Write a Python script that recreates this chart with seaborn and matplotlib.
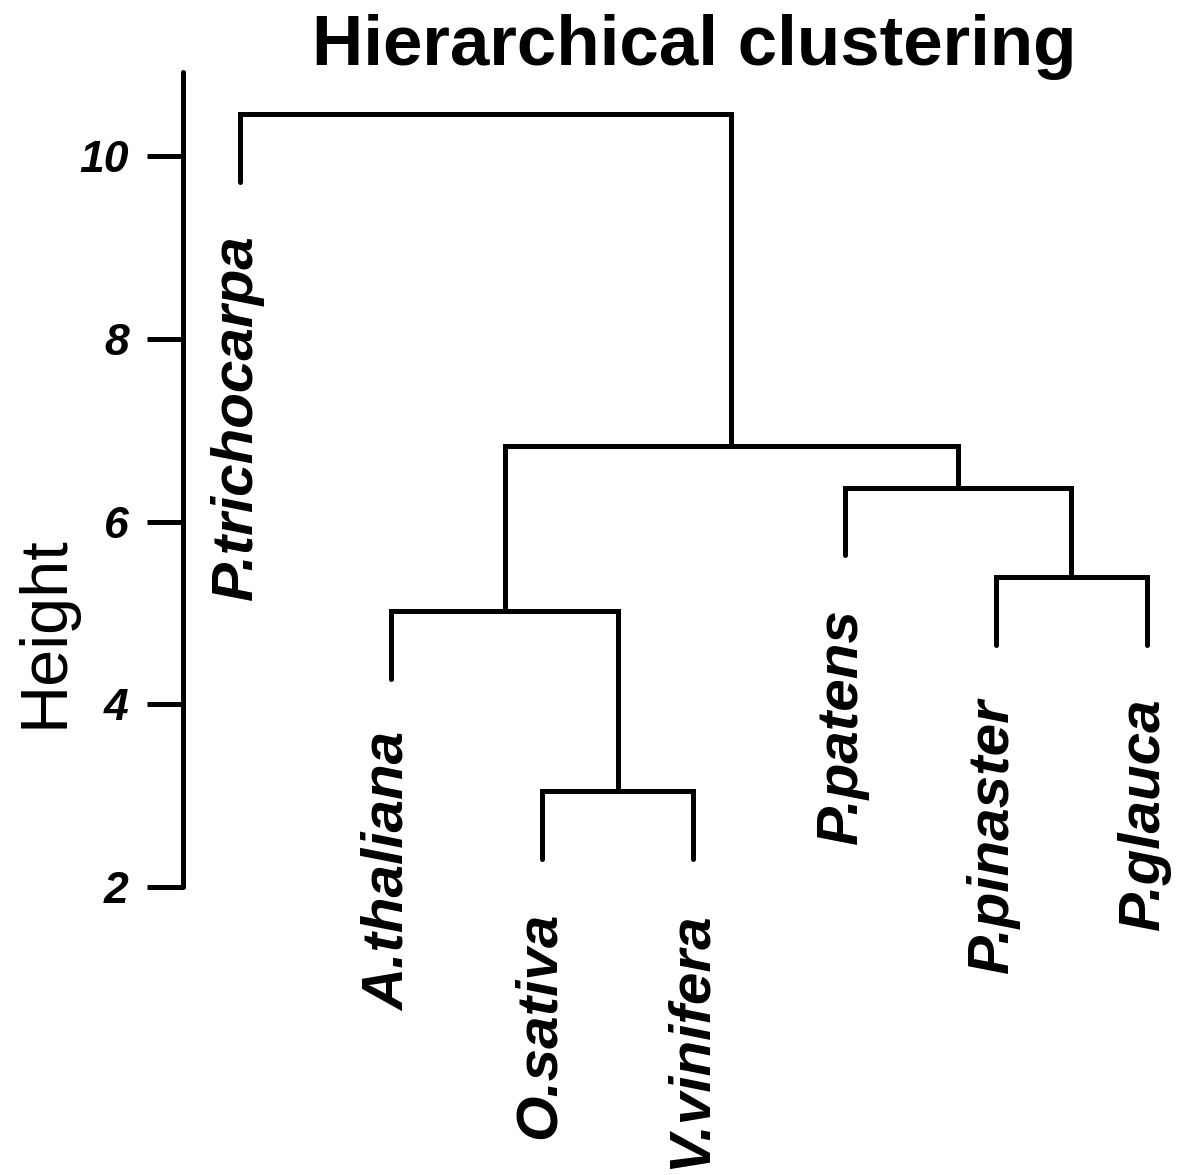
import numpy as np
import pandas as pd
import matplotlib
matplotlib.use("Agg")
import matplotlib.pyplot as plt
import seaborn as sns

# Leaves in plotting order (leaf k sits at x = k)
leaf_labels = ["P.trichocarpa", "A.thaliana", "O.sativa", "V.vinifera",
               "P.patens", "P.pinaster", "P.glauca"]

# hclust-style merge table: negative = leaf index, positive = earlier merge
merge_left = [-3, -6, -2, -5, 3, -1]
merge_right = [-4, -7, 1, 2, 4, 5]
merge_height = [3.05, 5.39, 5.02, 6.37, 6.83, 10.46]

y_ticks = [2, 4, 6, 8, 10]

sns.set_theme(style="white")
plt.rcParams["font.family"] = ["Liberation Sans", "DejaVu Sans"]
plt.rcParams.update({"text.color": "black", "axes.labelcolor": "black",
                     "xtick.color": "black", "ytick.color": "black",
                     "axes.edgecolor": "black"})

W, H = 1181, 1175
fig = plt.figure(figsize=(W / 100, H / 100), dpi=100)
ax = fig.add_axes([183 / W, (H - 887) / H, (W - 183) / W, 815 / H])

hang = 0.1 * (max(merge_height) - min(merge_height))

# x position of every merge node
node_x = {}
for i, (a, b) in enumerate(zip(merge_left, merge_right), start=1):
    xa = -a if a < 0 else node_x[a]
    xb = -b if b < 0 else node_x[b]
    node_x[i] = (xa + xb) / 2

rows = []
leaf_ends = {}
for i, (a, b, h) in enumerate(zip(merge_left, merge_right, merge_height), start=1):
    pts = []
    for child in (a, b):
        if child < 0:
            cx = -child
            cy = h - hang
            leaf_ends[cx] = cy
        else:
            cx = node_x[child]
            cy = merge_height[child - 1]
        pts.append((cx, cy))
    (xa, ya), (xb, yb) = pts
    for order, (px, py) in enumerate([(xa, ya), (xa, h), (xb, h), (xb, yb)]):
        rows.append({"seg": i, "order": order, "x": px, "y": py})

segs = pd.DataFrame(rows)
sns.lineplot(data=segs, x="x", y="y", units="seg", estimator=None, sort=False,
             color="black", linewidth=3.6, solid_capstyle="round",
             solid_joinstyle="miter", ax=ax, legend=False)

ax.set_xlim(0.623, 7.225)
ax.set_ylim(2, 10.92)

for s in ("top", "right", "bottom"):
    ax.spines[s].set_visible(False)
ax.spines["left"].set_linewidth(3.6)
ax.spines["left"].set_color("black")
ax.spines["left"].set_capstyle("round")

ax.set_xticks([])
ax.set_yticks(y_ticks)
ax.set_yticklabels([str(t) for t in y_ticks], fontsize=32,
                   fontweight="bold", fontstyle="italic", color="black")
ax.tick_params(axis="y", length=26, width=3.6, direction="out", pad=13,
               color="black", left=True)
ax.set_xlabel("")
ax.set_ylabel("")

for k, lab in enumerate(leaf_labels, start=1):
    ax.annotate(lab, xy=(k, leaf_ends[k]), xytext=(-2, -38),
                textcoords="offset points", rotation=90, ha="center",
                va="top", fontsize=42, fontweight="bold", fontstyle="italic",
                color="black", annotation_clip=False)

fig.text(694 / W, 1 - 65 / H, "Hierarchical clustering", ha="center",
         va="baseline", fontsize=51, fontweight="bold", color="black")
fig.text(45 / W, 1 - 632 / H, "Height", rotation=90, ha="center",
         va="center", fontsize=48, color="black")

fig.savefig("out.png", dpi=100, facecolor="white")
